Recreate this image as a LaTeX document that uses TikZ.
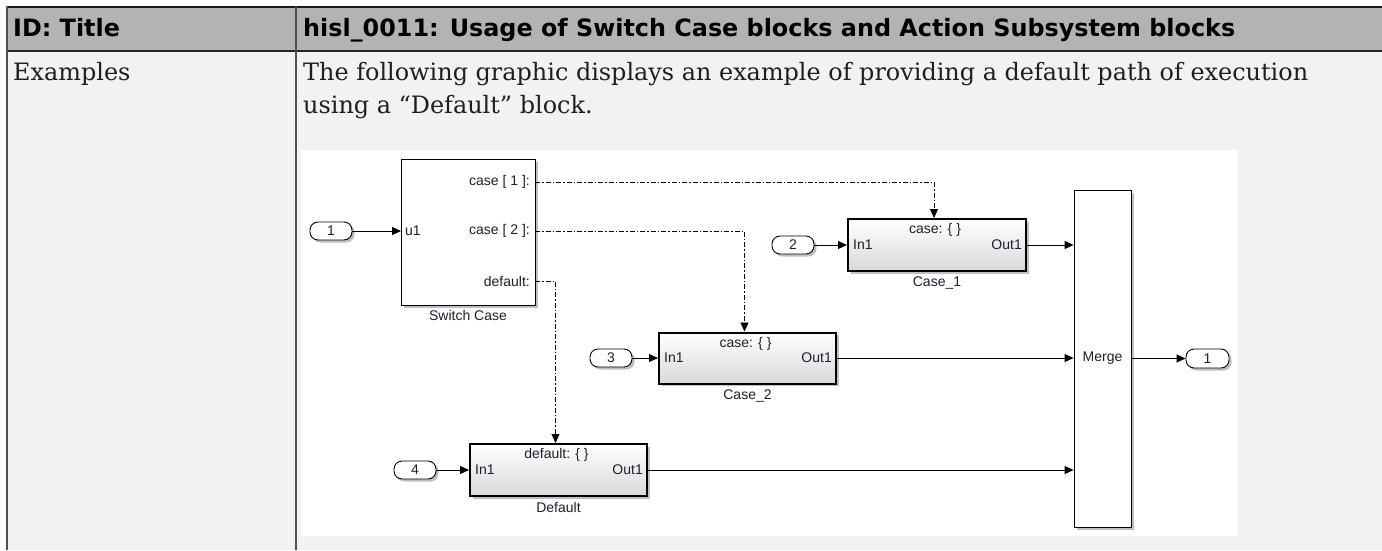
\documentclass[tikz,border=0pt]{standalone}
\usepackage{fontspec}
\setmainfont{DejaVu Serif}
\newfontfamily\hdfont{DejaVu Sans Bold}
\newfontfamily\slfont{Liberation Sans}
\usetikzlibrary{arrows.meta,shadows,calc}
\definecolor{hdrbg}{HTML}{B3B3B3}
\definecolor{bodybg}{HTML}{F2F2F2}
\definecolor{rulec}{HTML}{505050}
\definecolor{slc}{HTML}{1E1E32}
\newlength\fitlen
\newcommand\fitfont[3]{%
  \settowidth\fitlen{#1\fontsize{10pt}{12pt}\selectfont #3}%
  \pgfmathsetmacro\fitsz{10*#2/\fitlen}}
\tikzset{
  sl/.style={font=\slfont\fontsize{14pt}{16pt}\selectfont, text=slc, inner sep=0pt},
  shad/.style={drop shadow={shadow xshift=2.5pt, shadow yshift=-2.5pt, opacity=0.25, fill=black}},
  plainblk/.style={draw=black, line width=0.9pt, fill=white, shad},
  subsys/.style={draw=black, line width=2pt, top color=white, bottom color=black!15, shad},
  port/.style={draw=black, line width=0.9pt, fill=white, rounded corners=8pt,
    minimum width=42pt, minimum height=18pt, inner sep=0pt, shad,
    font=\slfont\fontsize{14pt}{16pt}\selectfont, text=slc},
  sig/.style={draw=black, line width=0.9pt, -{Triangle[length=9pt,width=8pt]}},
  act/.style={sig, dash pattern=on 5pt off 2pt on 1.5pt off 2pt},
}
\begin{document}
\fitfont{\hdfont}{932}{hisl\_0011: Usage of Switch Case blocks and Action Subsystem blocks}%
\let\hdsz\fitsz
\fitfont{\rmfamily}{1005}{The following graphic displays an example of providing a default path of execution}%
\let\bdsz\fitsz
\begin{tikzpicture}[x=1pt,y=-1pt]
\tikzset{
  hdtext/.style={font=\hdfont\fontsize{\hdsz pt}{\hdsz pt}\selectfont, text=black, inner sep=0pt, anchor=base west},
  bdtext/.style={font=\rmfamily\fontsize{\bdsz pt}{\bdsz pt}\selectfont, text=black!88, inner sep=0pt, anchor=base west},
}
\useasboundingbox (0,0) rectangle (1382,550);
\fill[white] (0,0) rectangle (1382,550);
% table
\fill[hdrbg] (7,7) rectangle (1382,51);
\fill[bodybg] (7,51) rectangle (1382,550);
\draw[black!90, line width=2pt] (1382,7) -- (6,7);
\draw[black!85, line width=1.5pt] (7,51) -- (1382,51);
\draw[rulec, line width=2.2pt] (7,6) -- (7,550);
\draw[rulec, line width=2pt] (296,7) -- (296,550);
\node[hdtext] (h1) at (13,36.5) {ID: Title};
\node[hdtext] (h2) at (303,36.5) {hisl\_0011: Usage of Switch Case blocks and Action Subsystem blocks};
\node[bdtext] (b1) at (13,80.5) {Examples};
\node[bdtext] (b2) at (303,80.5) {The following graphic displays an example of providing a default path of execution};
\node[bdtext] (b3) at (303,113) {using a “Default” block.};
% diagram canvas
\fill[white] (301,150) rectangle (1238,536);
% blocks
\node[plainblk, minimum width=134pt, minimum height=146pt] (sw) at (468,232) {};
\node[subsys, minimum width=178pt, minimum height=52pt] (case1) at (937,245) {};
\node[subsys, minimum width=177pt, minimum height=51pt] (case2) at (747.5,358) {};
\node[subsys, minimum width=177pt, minimum height=52pt] (def) at (558.5,470) {};
\node[plainblk, minimum width=57pt, minimum height=337pt] (merge) at (1102.5,358.5) {};
% ports
\node[port] (in1) at (331,231) {1};
\node[port] (in2) at (793,245) {2};
\node[port] (in3) at (611,358) {3};
\node[port] (in4) at (415,470) {4};
\node[port, minimum width=43pt, minimum height=19pt] (out1) at (1207.5,358.5) {1};
% port coordinates of Switch Case
\coordinate (swin) at (401,231);
\coordinate (swc1) at (535,182);
\coordinate (swc2) at (535,231);
\coordinate (swd) at (535,281);
% block texts
\node[sl, anchor=west] (tu1) at ($(swin)+(4,0)$) {u1};
\node[sl, anchor=east] (tc1) at ($(swc1)+(-5,0)$) {case [ 1 ]:};
\node[sl, anchor=east] (tc2) at ($(swc2)+(-5,0)$) {case [ 2 ]:};
\node[sl, anchor=east] (tcd) at ($(swd)+(-5,0)$) {default:};
\node[sl, anchor=north] (nsw) at ($(sw.south)+(0,5)$) {Switch Case};
\foreach \b/\lab/\top in {case1/Case\_1/case: \{ \}, case2/Case\_2/case: \{ \}, def/Default/default: \{ \}}{
  \node[sl] (\b top) at ($(\b.north)+(-2,12)$) {\top};
  \node[sl, anchor=west] (\b in) at ($(\b.west)+(6,0)$) {In1};
  \node[sl, anchor=east] (\b out) at ($(\b.east)+(-5,0)$) {Out1};
  \node[sl, anchor=north] (\b name) at ($(\b.south)+(0,5)$) {\lab};
}
\node[sl] (mlab) at (merge.center) {Merge};
% signal lines
\draw[sig] (in1.east) -- (swin);
\draw[sig] (in2.east) -- (in2.east -| case1.west);
\draw[sig] (in3.east) -- (in3.east -| case2.west);
\draw[sig] (in4.east) -- (in4.east -| def.west);
\draw[sig] (case1.east) -- (case1.east -| merge.west);
\draw[sig] (case2.east) -- (case2.east -| merge.west);
\draw[sig] (def.east) -- (def.east -| merge.west);
\draw[sig] (merge.east) -- (out1.west);
% action lines
\draw[act] (swc1) -| ($(case1.north)+(-3,0)$);
\draw[act] (swc2) -| ($(case2.north)+(-3,0)$);
\draw[act] (swd) -| ($(def.north)+(-3,0)$);
\end{tikzpicture}
\end{document}
